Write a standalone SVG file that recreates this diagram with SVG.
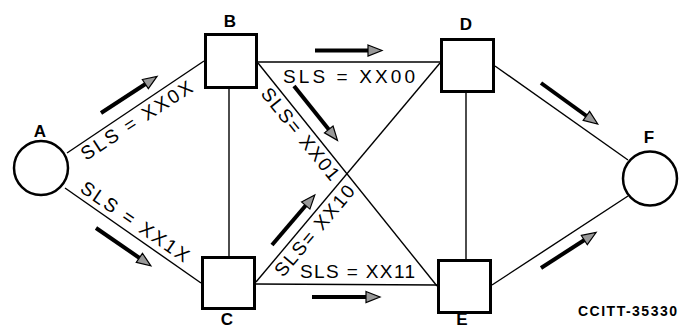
<svg xmlns="http://www.w3.org/2000/svg" width="679" height="329" viewBox="0 0 679 329">
<defs>
<style>
.node{fill:#fff;stroke:#000;stroke-width:3}
.link{stroke:#000;stroke-width:1.4;fill:none}
.flow{stroke:#000;stroke-width:4;fill:none;marker-end:url(#head)}
.lbl{font-family:"Liberation Sans",Arial,sans-serif;font-size:19px;fill:#000}
.nl{font-family:"Liberation Sans",Arial,sans-serif;font-size:17px;font-weight:bold;fill:#000;text-anchor:middle}
.ref{font-family:"Liberation Sans",Arial,sans-serif;font-size:14px;font-weight:bold;fill:#000}
</style>
<marker id="head" markerUnits="userSpaceOnUse" viewBox="-3 -7 17 14" refX="0" refY="0" markerWidth="17" markerHeight="14" orient="auto">
<path d="M-2,-5.5 L12,0 L-2,5.5 Z" fill="#999" stroke="#000" stroke-width="1.2" stroke-linejoin="miter"/>
</marker>
</defs>
<rect width="679" height="329" fill="#fff"/>
<g id="connectors">
<line class="link" x1="67" y1="153" x2="204" y2="61"/>
<line class="link" x1="65" y1="188" x2="201" y2="283"/>
<line class="link" x1="229" y1="89" x2="229" y2="256"/>
<line class="link" x1="258" y1="62" x2="440" y2="62"/>
<line class="link" x1="258" y1="63" x2="437" y2="286"/>
<line class="link" x1="256" y1="282" x2="440" y2="63"/>
<line class="link" x1="256" y1="284" x2="437" y2="285"/>
<line class="link" x1="466" y1="93" x2="466" y2="259"/>
<line class="link" x1="495" y1="66" x2="628" y2="160"/>
<line class="link" x1="492" y1="285" x2="628" y2="196"/>
<line class="flow" x1="101" y1="113" x2="147" y2="83"/>
<line class="flow" x1="96" y1="228" x2="141" y2="259"/>
<line class="flow" x1="315" y1="50.5" x2="370" y2="50.5"/>
<line class="flow" x1="294" y1="86" x2="330" y2="131"/>
<line class="flow" x1="272" y1="245" x2="307" y2="204"/>
<line class="flow" x1="312" y1="297" x2="368" y2="297"/>
<line class="flow" x1="541" y1="83" x2="588" y2="117"/>
<line class="flow" x1="541" y1="268" x2="586" y2="239"/>
<text class="lbl" transform="translate(86,161) rotate(-33)" textLength="129" lengthAdjust="spacing">SLS = XX0X</text>
<text class="lbl" transform="translate(79,191) rotate(34.5)" textLength="127" lengthAdjust="spacing">SLS = XX1X</text>
<text class="lbl" x="283" y="83" textLength="132" lengthAdjust="spacing">SLS = XX00</text>
<text class="lbl" transform="translate(260,94) rotate(51.2)" textLength="113" lengthAdjust="spacing">SLS= XX01</text>
<text class="lbl" transform="translate(283,278) rotate(-49.8)" textLength="113" lengthAdjust="spacing">SLS= XX10</text>
<text class="lbl" x="300" y="278" textLength="115" lengthAdjust="spacing">SLS = XX11</text>
</g>
<g id="node-A"><circle class="node" cx="41" cy="168" r="27" style="stroke-width:2.5"/><text class="nl" x="40" y="137">A</text></g>
<g id="node-B"><rect class="node" x="205.5" y="34.5" width="51" height="53"/><text class="nl" x="230" y="27">B</text></g>
<g id="node-C"><rect class="node" x="202.5" y="257.5" width="52" height="51"/><text class="nl" x="227" y="325">C</text></g>
<g id="node-D"><rect class="node" x="441.5" y="39.5" width="52" height="52"/><text class="nl" x="466" y="30">D</text></g>
<g id="node-E"><rect class="node" x="438.5" y="260.5" width="52" height="52"/><text class="nl" x="462" y="325">E</text></g>
<g id="node-F"><circle class="node" cx="650" cy="178.5" r="27" style="stroke-width:2.5"/><text class="nl" x="649" y="143">F</text></g>
<text class="ref" x="578" y="316" textLength="99" lengthAdjust="spacing">CCITT-35330</text>
</svg>
